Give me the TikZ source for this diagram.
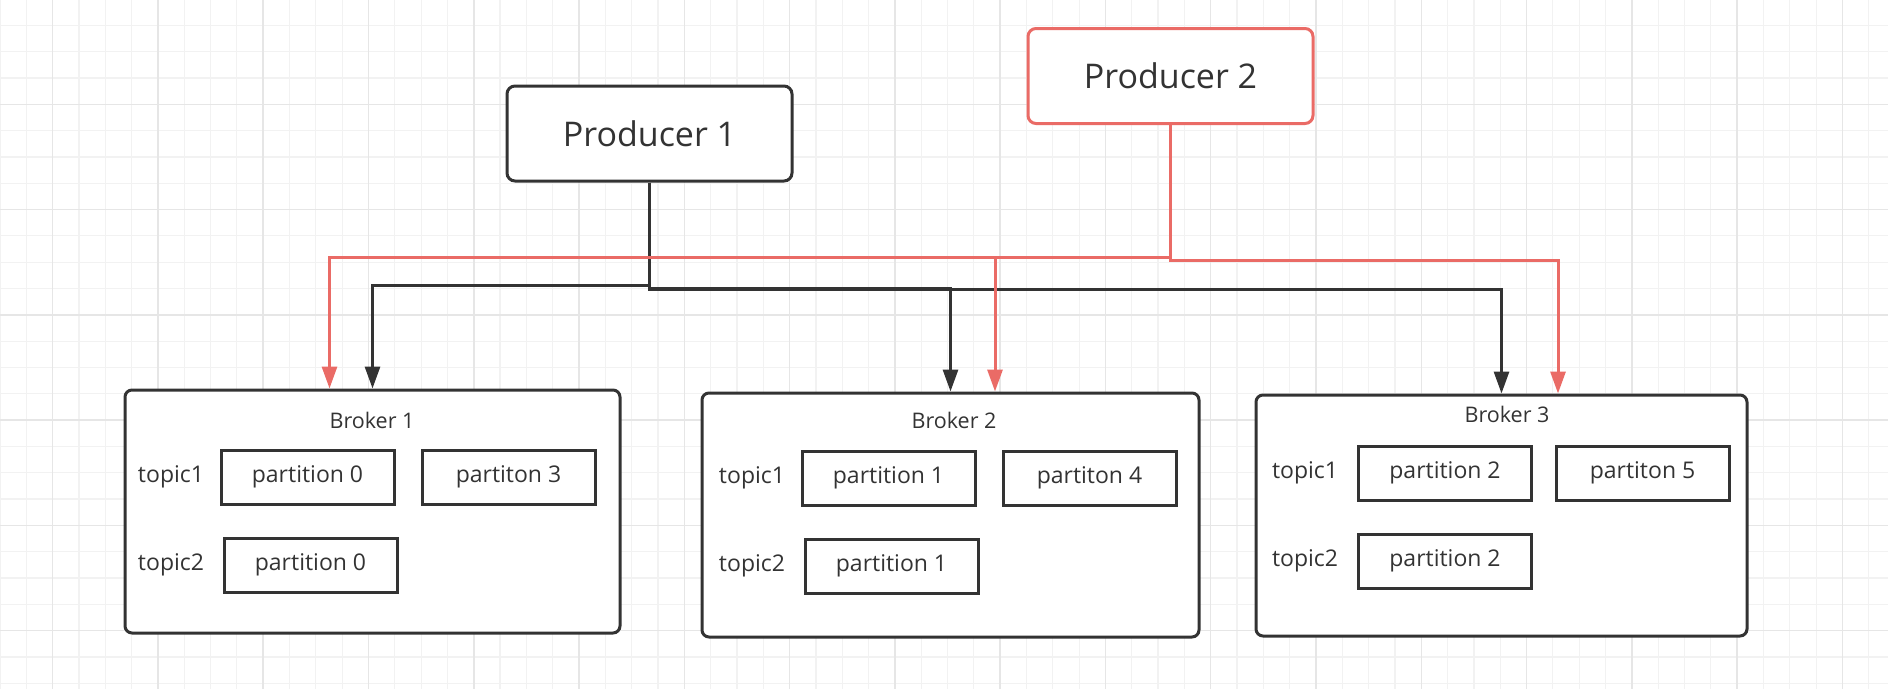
\documentclass[tikz,border=0pt]{standalone}
\usepackage{fontspec}
\setmainfont{Open Sans}
\usetikzlibrary{arrows.meta}

\definecolor{inkGray}{HTML}{333333}
\definecolor{prodRed}{HTML}{EA6B66}
\definecolor{gridLight}{HTML}{F2F2F2}
\definecolor{gridDark}{HTML}{E6E6E6}

\tikzstyle{prodNode} = [rectangle, rounded corners=8pt, minimum width=285pt, minimum height=95pt, text centered, draw=inkGray, line width=3pt, fill=white, text=inkGray, font=\fontsize{34}{40}\selectfont]
\tikzstyle{brokerNode} = [rectangle, rounded corners=7pt, minimum width=495pt, minimum height=243pt, draw=inkGray, line width=3pt, fill=white]
\tikzstyle{partNode} = [rectangle, minimum width=173pt, minimum height=54pt, text centered, draw=inkGray, line width=3pt, text=inkGray, font=\fontsize{23}{28}\selectfont]
\tikzstyle{topicText} = [text=inkGray, font=\fontsize{23}{28}\selectfont]
\tikzstyle{brokerText} = [text=inkGray, font=\fontsize{21.5}{26}\selectfont]
\tikzstyle{gridMinor} = [draw=gridLight, line width=1.2pt]
\tikzstyle{gridMajor} = [draw=gridDark, line width=1.5pt]
\tikzstyle{blackArrow} = [line width=3pt, draw=inkGray, -{Triangle[length=22pt,width=15pt]}]
\tikzstyle{redArrow} = [line width=3pt, draw=prodRed, -{Triangle[length=22pt,width=15pt]}]

\begin{document}
\begin{tikzpicture}[x=1pt, y=-1pt, node distance=88pt]
    \useasboundingbox (0,0) rectangle (1888,689);
    \fill[white] (0,0) rectangle (1888,689);

    % background grid
    \foreach \gx in {0,...,71} \draw[gridMinor] (\gx*26.32,0) -- (\gx*26.32,689);
    \foreach \gy in {0,...,26} \draw[gridMinor] (0,\gy*26.32-1) -- (1888,\gy*26.32-1);
    \foreach \gx in {0,...,17} \draw[gridMajor] (52.64+\gx*105.28,0) -- (52.64+\gx*105.28,689);
    \foreach \gy in {0,...,6} \draw[gridMajor] (0,\gy*105.28-1) -- (1888,\gy*105.28-1);

    % producers
    \node (prod1)[prodNode] at (649.5,133.5) {Producer 1};
    \node (prod2)[prodNode, draw=prodRed] at (1170.5,76) {Producer 2};

    % brokers
    \node (broker1)[brokerNode] at (372.5,511.5) {};
    \node (broker2)[brokerNode, minimum width=497pt, minimum height=244pt] at (950.5,515) {};
    \node (broker3)[brokerNode, minimum width=491pt, minimum height=241pt] at (1501.5,515.5) {};

    \node (b1label)[brokerText] at (372,420) {Broker 1};
    \node (b1topic1)[topicText] at (171,477) {topic1};
    \node (b1topic2)[topicText, below of=b1topic1] {topic2};
    \node (b1part0)[partNode, right of=b1topic1, xshift=48.5pt] {partition 0};
    \node (b1part3)[partNode, right of=b1part0, xshift=113pt] {partiton 3};
    \node (b1part0b)[partNode, right of=b1topic2, xshift=51.5pt] {partition 0};

    \node (b2label)[brokerText] at (954,420) {Broker 2};
    \node (b2topic1)[topicText] at (752,478) {topic1};
    \node (b2topic2)[topicText, below of=b2topic1] {topic2};
    \node (b2part1)[partNode, right of=b2topic1, xshift=48.5pt] {partition 1};
    \node (b2part4)[partNode, right of=b2part1, xshift=113pt] {partiton 4};
    \node (b2part1b)[partNode, right of=b2topic2, xshift=51.5pt] {partition 1};

    \node (b3label)[brokerText] at (1507,414) {Broker 3};
    \node (b3topic1)[topicText] at (1305,473) {topic1};
    \node (b3topic2)[topicText, below of=b3topic1] {topic2};
    \node (b3part2)[partNode, right of=b3topic1, xshift=52pt] {partition 2};
    \node (b3part5)[partNode, right of=b3part2, xshift=109.5pt] {partiton 5};
    \node (b3part2b)[partNode, right of=b3topic2, xshift=52pt] {partition 2};

    % producer 1 -> brokers
    \draw [blackArrow] (prod1.south) -- ++(0,102.5) -| (broker1.north);
    \draw [blackArrow] (prod1.south) -- ++(0,105.5) -| (broker2.north);
    \draw [blackArrow] (prod1.south) -- ++(0,106.5) -| (broker3.north);

    % producer 2 -> brokers
    \draw [redArrow] (prod2.south) -- ++(0,132) -| ([xshift=-43pt]broker1.north);
    \draw [redArrow] (prod2.south) -- ++(0,132) -| ([xshift=44.5pt]broker2.north);
    \draw [redArrow] (prod2.south) -- ++(0,135) -| ([xshift=56.5pt]broker3.north);

\end{tikzpicture}
\end{document}
